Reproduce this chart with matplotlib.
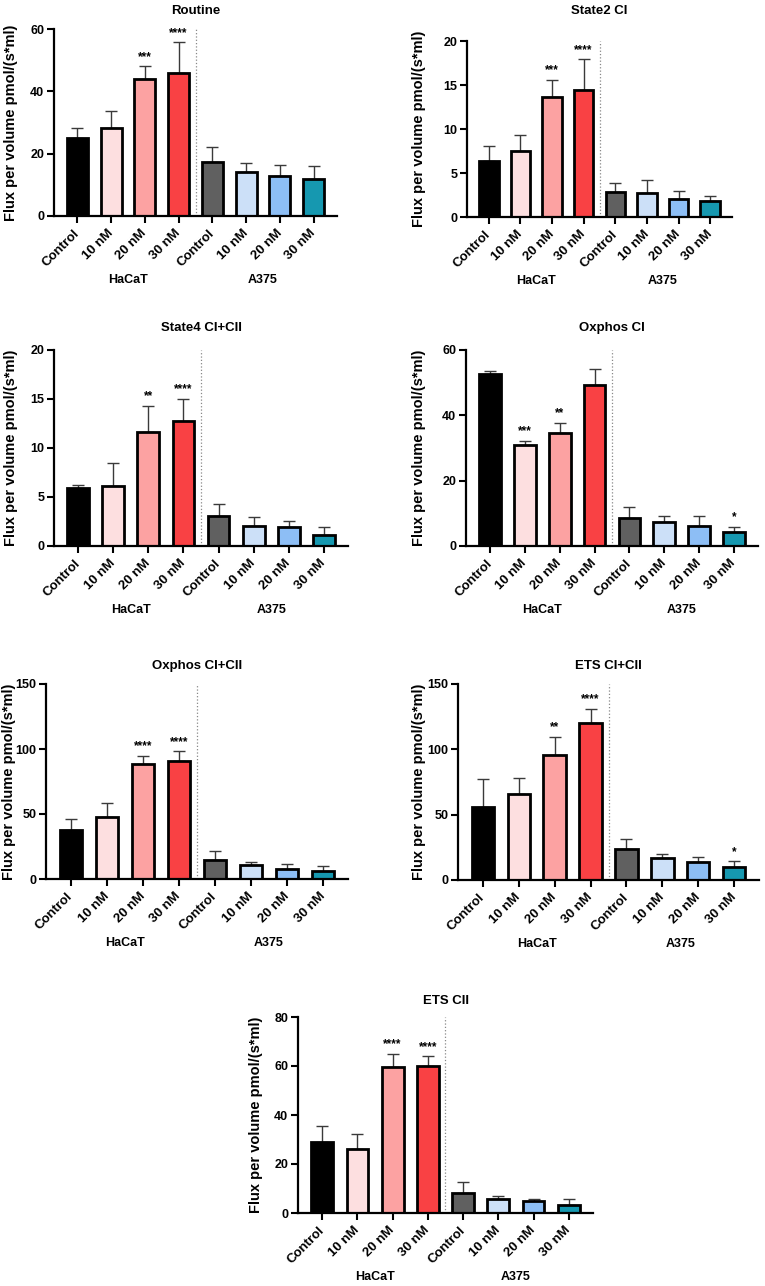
import matplotlib
matplotlib.use("Agg")
from matplotlib import pyplot as plt
import numpy as np

plt.rcParams['font.family'] = ['Liberation Sans', 'DejaVu Sans']
plt.rcParams['font.weight'] = 'bold'

# data (mean, upper SD) for each of the 7 respiration states
conditions = ["Control", "10 nM", "20 nM", "30 nM", "Control", "10 nM", "20 nM", "30 nM"]
groups = ["HaCaT", "A375"]
bar_colors = ["#000000", "#FDDFE0", "#FCA2A2", "#F94144",
              "#606060", "#CCE0F8", "#8DBEF5", "#1698B0"]

titles = ["Routine", "State2 CI", "State4 CI+CII", "Oxphos CI",
          "Oxphos CI+CII", "ETS CI+CII", "ETS CII"]
y_max = [60, 20, 20, 60, 150, 150, 80]
y_step = [20, 5, 5, 20, 50, 50, 20]

routine_mean = [24.9, 28.1, 44.0, 46.0, 17.2, 14.2, 12.9, 12.0]
routine_top = [28.1, 33.8, 48.0, 55.7, 22.0, 16.9, 16.5, 15.9]
routine_sig = ["", "", "***", "****", "", "", "", ""]

state2_mean = [6.33, 7.5, 13.6, 14.4, 2.88, 2.77, 2.0, 1.86]
state2_top = [8.07, 9.28, 15.6, 17.9, 3.86, 4.17, 3.0, 2.39]
state2_sig = ["", "", "***", "****", "", "", "", ""]

state4_mean = [5.95, 6.16, 11.6, 12.8, 3.06, 2.07, 1.9, 1.12]
state4_top = [6.22, 8.44, 14.3, 15.03, 4.32, 2.93, 2.52, 1.97]
state4_sig = ["", "", "**", "****", "", "", "", ""]

oxci_mean = [52.7, 30.9, 34.5, 49.3, 8.67, 7.35, 6.12, 4.39]
oxci_top = [53.7, 32.2, 37.8, 54.3, 11.9, 9.18, 9.18, 5.9]
oxci_sig = ["", "***", "**", "", "", "", "", "*"]

oxcii_mean = [37.4, 47.9, 88.8, 90.4, 14.3, 10.75, 7.7, 5.9]
oxcii_top = [46.3, 58.4, 95.0, 98.5, 21.5, 13.05, 11.3, 9.7]
oxcii_sig = ["", "", "****", "****", "", "", "", ""]

ets_mean = [56.1, 65.8, 95.4, 120.4, 23.5, 16.6, 13.5, 9.7]
ets_top = [77.6, 78.3, 109.7, 131.1, 31.6, 19.9, 17.9, 14.3]
ets_sig = ["", "", "**", "****", "", "", "", "*"]

etscii_mean = [28.8, 26.1, 59.5, 60.1, 8.1, 5.6, 4.8, 3.3]
etscii_top = [35.6, 32.1, 65.0, 63.9, 12.5, 7.0, 5.75, 5.75]
etscii_sig = ["", "", "****", "****", "", "", "", ""]

means = [routine_mean, state2_mean, state4_mean, oxci_mean, oxcii_mean, ets_mean, etscii_mean]
tops = [routine_top, state2_top, state4_top, oxci_top, oxcii_top, ets_top, etscii_top]
sigs = [routine_sig, state2_sig, state4_sig, oxci_sig, oxcii_sig, ets_sig, etscii_sig]

W, H = 765, 1286
# axes boxes in pixels: left, top, right, bottom
boxes = [(54, 29, 337, 216), (467, 41, 732, 217),
         (54, 350, 348, 546), (466, 350, 758, 546),
         (46, 684, 348, 879), (458, 684, 759, 880),
         (298, 1017, 593, 1213)]
title_y = [11, 11, 328, 328, 666, 666, 1001]
ylabel_x = [11, 419, 11, 419, 9, 419, 256]

fig = plt.figure(figsize=(W / 100, H / 100), dpi=100)

for i in range(7):
    l, t, r, b = boxes[i]
    ax = fig.add_axes([l / W, 1 - b / H, (r - l) / W, (b - t) / H])
    x = np.arange(len(conditions))
    m = np.array(means[i])
    err = np.array(tops[i]) - m
    ax.errorbar(x, m, yerr=[np.zeros_like(err), err], fmt='none', ecolor='#3a3a3a',
                elinewidth=1.0, capsize=4.3, capthick=1.0, zorder=1)
    ax.bar(x, m, width=0.62, color=bar_colors, edgecolor='black', linewidth=2.0, zorder=2)
    ax.axvline(3.5, color='#888888', ls=':', lw=0.9, zorder=0)

    for j in range(len(x)):
        if sigs[i][j]:
            ax.annotate(sigs[i][j], xy=(x[j], tops[i][j]), xytext=(0, 4.5),
                        textcoords='offset points', ha='center', va='baseline',
                        fontsize=8.5, fontweight='bold')

    ax.set_xlim(-0.69, 7.69)
    ax.set_ylim(0, y_max[i])
    ax.set_yticks(np.arange(0, y_max[i] + 1, y_step[i]))
    ax.set_xticks(x)
    ax.set_xticklabels(conditions, rotation=45, ha='right', va='center',
                       rotation_mode='anchor', fontsize=9.5, fontweight='bold')
    ax.tick_params(axis='x', length=5, width=1.5, pad=6)
    ax.tick_params(axis='y', length=5, width=1.5, labelsize=9, pad=2)
    for lab in ax.get_yticklabels():
        lab.set_fontweight('bold')
    ax.spines['top'].set_visible(False)
    ax.spines['right'].set_visible(False)
    ax.spines['left'].set_linewidth(1.6)
    ax.spines['bottom'].set_linewidth(1.6)
    ax.set_ylabel("Flux per volume pmol/(s*ml)", fontsize=10.5, fontweight='bold')
    ax.yaxis.set_label_coords((ylabel_x[i] - l) / (r - l), 0.5)
    ax.yaxis.label.set_va('center')

    # group labels under the rotated ticks
    for g, gx in zip(groups, [1.5, 5.5]):
        ax.annotate(g, xy=(gx, 0), xycoords=('data', 'axes fraction'),
                    xytext=(0, -46), textcoords='offset points',
                    ha='center', va='center', fontsize=9, fontweight='bold')

    fig.text((l + r) / 2 / W, 1 - title_y[i] / H, titles[i], ha='center', va='center',
             fontsize=9.5, fontweight='bold')

fig.savefig("out.png", dpi=100)
